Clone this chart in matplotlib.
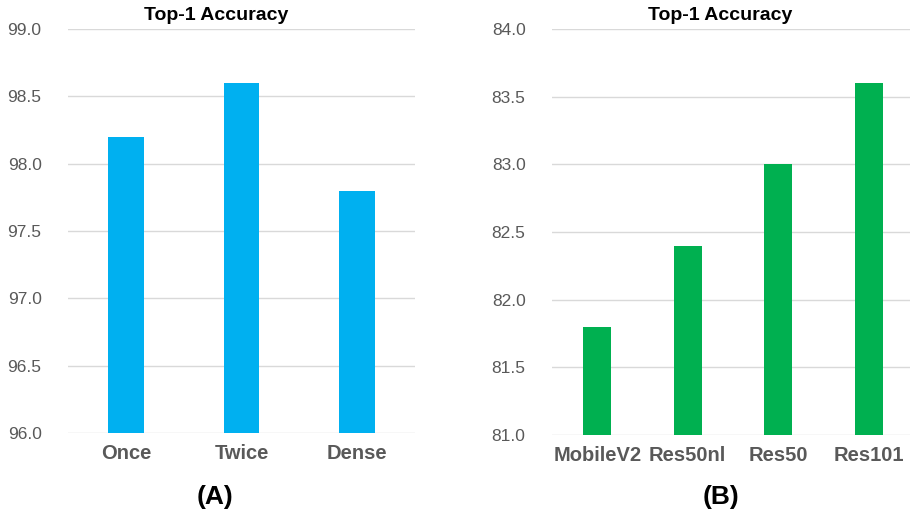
import matplotlib
matplotlib.use("Agg")
import matplotlib.pyplot as plt
import numpy as np

cats_a = ["Once", "Twice", "Dense"]
vals_a = [98.2, 98.6, 97.8]
yticks_a = [96.0, 96.5, 97.0, 97.5, 98.0, 98.5, 99.0]

cats_b = ["MobileV2", "Res50nl", "Res50", "Res101"]
vals_b = [81.8, 82.4, 83.0, 83.6]
yticks_b = [81.0, 81.5, 82.0, 82.5, 83.0, 83.5, 84.0]

title_text = "Top-1 Accuracy"
sub_labels = ["(A)", "(B)"]

plt.rcParams['font.family'] = ['Liberation Sans', 'DejaVu Sans']

W, H = 910, 517
fig = plt.figure(figsize=(W / 100, H / 100), dpi=100)

def px_axes(x0, x1, ytop, ybot):
    return fig.add_axes([x0 / W, 1 - ybot / H, (x1 - x0) / W, (ybot - ytop) / H])

ax_a = px_axes(68, 415, 29, 433)
ax_b = px_axes(552, 914, 29, 435)

def style(ax, cats, vals, yt, color, width):
    x = np.arange(len(cats))
    ax.bar(x, vals, width=width, color=color, zorder=3)
    ax.set_xlim(-0.5, len(cats) - 0.5)
    ax.set_ylim(yt[0], yt[-1])
    ax.set_yticks(yt)
    ax.set_yticklabels([f"{v:.1f}" for v in yt], fontsize=12.5, color="#595959")
    ax.set_xticks(x)
    ax.set_xticklabels(cats, fontsize=14.5, color="#595959", fontweight="bold")
    ax.tick_params(axis="y", length=0, pad=19)
    ax.tick_params(axis="x", length=0, pad=8)
    for s in ax.spines.values():
        s.set_visible(False)
    ax.grid(axis="y", color="#D9D9D9", linewidth=1.0, zorder=0)
    ax.set_axisbelow(True)

style(ax_a, cats_a, vals_a, yticks_a, "#00B0F0", 0.31)
style(ax_b, cats_b, vals_b, yticks_b, "#00B050", 0.31)

fig.text(216 / W, 1 - 16 / H, title_text, ha="center", va="center", fontsize=14, fontweight="bold", color="black")
fig.text(720 / W, 1 - 15 / H, title_text, ha="center", va="center", fontsize=14, fontweight="bold", color="black")
fig.text(215 / W, 1 - 497 / H, sub_labels[0], ha="center", va="center", fontsize=19, fontweight="bold", color="black")
fig.text(721 / W, 1 - 497 / H, sub_labels[1], ha="center", va="center", fontsize=19, fontweight="bold", color="black")

fig.savefig("out.png", dpi=100)
